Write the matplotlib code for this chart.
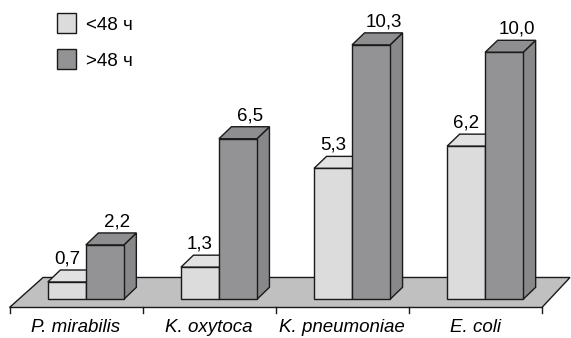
import matplotlib
matplotlib.use("Agg")
import matplotlib.pyplot as plt
from matplotlib.patches import Polygon, Rectangle

# Data
categories = ["P. mirabilis", "K. oxytoca", "K. pneumoniae", "E. coli"]
under_48h = [0.7, 1.3, 5.3, 6.2]
over_48h = [2.2, 6.5, 10.3, 10.0]
series_names = ["<48 ч", ">48 ч"]

plt.rcParams["font.family"] = ["Liberation Sans", "DejaVu Sans"]
FS = 13.5

W, H = 571, 338
fig = plt.figure(figsize=(W / 100, H / 100), dpi=100)
ax = fig.add_axes([0, 0, 1, 1])
ax.set_xlim(-0.0714, 4.2186)
ax.set_ylim(-1.567, 12.117)
ax.axis("off")

# 3D styling
dx, dy = 0.094, 0.486          # bar depth offset (category units, value units)
bar_w = 0.2855
bar_start = 0.288
edge = "#1a1a1a"
lw = 1.0

styles = [
    dict(front="#dcdcdc", top="#e2e2e2", side="#c8c8c8"),
    dict(front="#939395", top="#8e8e90", side="#88888a"),
]

# Floor
floor_front, floor_back = -0.332, 0.883
n = len(categories)
floor = Polygon([(0, floor_front), (n, floor_front),
                 (n + 0.211, floor_back), (0.252, floor_back)],
                closed=True, facecolor="#c0c0c0", edgecolor=edge, lw=lw, zorder=1)
ax.add_patch(floor)

# Category ticks below the floor's front edge
for i in range(n + 1):
    ax.plot([i, i], [floor_front, floor_front - 0.22], color=edge, lw=lw, zorder=1)


def draw_bar(x0, v, st, z):
    x1 = x0 + bar_w
    ax.add_patch(Polygon([(x1, 0), (x1 + dx, dy), (x1 + dx, v + dy), (x1, v)],
                         closed=True, facecolor=st["side"], edgecolor=edge, lw=lw, zorder=z))
    ax.add_patch(Polygon([(x0, v), (x1, v), (x1 + dx, v + dy), (x0 + dx, v + dy)],
                         closed=True, facecolor=st["top"], edgecolor=edge, lw=lw, zorder=z))
    ax.add_patch(Rectangle((x0, 0), bar_w, v, facecolor=st["front"],
                           edgecolor=edge, lw=lw, zorder=z))


label_gap = 0.26
for i, (a, b) in enumerate(zip(under_48h, over_48h)):
    xa = i + bar_start
    xb = xa + bar_w
    draw_bar(xa, a, styles[0], 2 + 2 * i)
    draw_bar(xb, b, styles[1], 3 + 2 * i)
    ax.text(xa + bar_w / 2, a + dy + label_gap, f"{a:.1f}".replace(".", ","),
            ha="center", va="baseline", fontsize=FS, zorder=20)
    ax.text(xb + bar_w / 2 + dx, b + dy + label_gap, f"{b:.1f}".replace(".", ","),
            ha="center", va="baseline", fontsize=FS, zorder=20)
    ax.text(i + 0.5, -1.324, categories[i], ha="center", va="baseline",
            fontsize=FS, style="italic", zorder=20)

# Legend
for k, (name, st) in enumerate(zip(series_names, styles)):
    top = 13 + 36 * k
    fig.add_artist(Rectangle((57 / W, 1 - (top + 20) / H), 19 / W, 20 / H,
                             transform=fig.transFigure, facecolor=st["front"],
                             edgecolor=edge, lw=lw))
    fig.text(86 / W, 1 - (top + 17.5) / H, name, ha="left", va="baseline", fontsize=FS)

fig.savefig("out.png", dpi=100)
